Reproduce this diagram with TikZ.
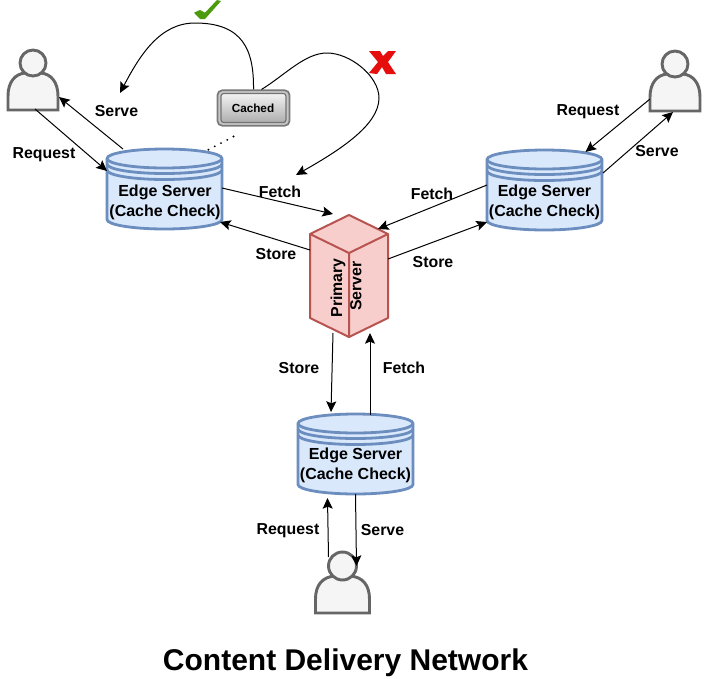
\documentclass[tikz,border=0pt]{standalone}
\usepackage{fontspec}
\setmainfont{Liberation Sans}
\usetikzlibrary{arrows.meta,calc}
\definecolor{cylfill}{HTML}{DAE8FC}
\definecolor{cylline}{HTML}{6C8EBF}
\definecolor{boxfill}{HTML}{F8CECC}
\definecolor{boxline}{HTML}{B85450}
\definecolor{userfill}{HTML}{F5F5F5}
\definecolor{userline}{HTML}{666666}
\definecolor{checkgreen}{HTML}{4C9A0E}
\definecolor{crossred}{HTML}{E60D0D}
\tikzset{
  lbl/.style={font=\bfseries\fontsize{11.9pt}{14pt}\selectfont,inner sep=0pt,text=black},
  cyltext/.style={font=\bfseries\fontsize{12pt}{15pt}\selectfont,align=center,inner sep=0pt},
  anchorbox/.style={minimum width=86.25pt,minimum height=60pt,inner sep=0pt,outer sep=0pt},
  userbox/.style={minimum width=37.5pt,minimum height=45pt,inner sep=0pt,outer sep=0pt},
  conn/.style={draw=black,line width=0.75pt,-{Stealth[length=8pt,width=7.5pt,inset=1.5pt]}},
  cylshape/.style={draw=cylline,fill=cylfill,line width=2.1pt},
  cylring/.style={draw=cylline,line width=2.1pt},
  usershape/.style={draw=userline,fill=userfill,line width=2.2pt},
}
\begin{document}
\begin{tikzpicture}[x=0.75pt,y=-0.75pt]
\useasboundingbox (0,0) rectangle (719,679);
\fill[white] (0,0) rectangle (719,679);

% ---- edge servers -------------------------------------------------
\foreach \cx/\ty in {164.5/149,544.5/150,355.5/414}{
  \path[cylshape] (\cx-57.5,\ty+9.5)
     .. controls (\cx-57.5,\ty+4.25) and (\cx-31.8,\ty) .. (\cx,\ty)
     .. controls (\cx+31.8,\ty) and (\cx+57.5,\ty+4.25) .. (\cx+57.5,\ty+9.5)
     -- (\cx+57.5,\ty+70.5)
     .. controls (\cx+57.5,\ty+75.75) and (\cx+31.8,\ty+80) .. (\cx,\ty+80)
     .. controls (\cx-31.8,\ty+80) and (\cx-57.5,\ty+75.75) .. (\cx-57.5,\ty+70.5) -- cycle;
  \foreach \off in {9.5,15,21}{
    \draw[cylring] (\cx-57.5,\ty+\off)
      .. controls (\cx-57.5,\ty+\off+5.25) and (\cx-31.8,\ty+\off+9.5) .. (\cx,\ty+\off+9.5)
      .. controls (\cx+31.8,\ty+\off+9.5) and (\cx+57.5,\ty+\off+5.25) .. (\cx+57.5,\ty+\off);
  }
}
\node[anchorbox] (edgeA) at (164.5,189) {};
\node[anchorbox] (edgeB) at (544.5,190) {};
\node[anchorbox] (edgeC) at (355.5,454) {};
\node[cyltext] at (165,202) {Edge Server\\(Cache Check)};
\node[cyltext] at (544.5,202) {Edge Server\\(Cache Check)};
\node[cyltext] at (355.5,465.5) {Edge Server\\(Cache Check)};

% ---- users ---------------------------------------------------------
\foreach \cx/\ty/\hw/\rr in {33/50/25/13,675/51/25/13,342.5/553/27/14}{
  \draw[usershape] (\cx-\hw,\ty+60) -- (\cx-\hw,\ty+46) .. controls (\cx-\hw,\ty+32) and (\cx-\hw+7,\ty+24) .. (\cx-8,\ty+23)
    -- (\cx+8,\ty+23) .. controls (\cx+\hw-7,\ty+24) and (\cx+\hw,\ty+32) .. (\cx+\hw,\ty+46) -- (\cx+\hw,\ty+60) -- cycle;
  \draw[usershape] (\cx,\ty+13) circle[radius=\rr*0.75pt];
}
\node[userbox] (userA) at (33,80) {};
\node[userbox] (userB) at (675,81) {};
\node[userbox] (userC) at (342.5,583) {};

% ---- primary server -------------------------------------------------
\draw[draw=boxline,fill=boxfill,line width=1.5pt,line join=round] (310,234) -- (349,215) -- (388,234) -- (388,318) -- (349,337) -- (310,318) -- cycle;
\draw[draw=boxline,line width=1.5pt,line join=round] (310,234) -- (349,253) -- (388,234) (349,253) -- (349,337);
\node[anchorbox,minimum width=58.5pt,minimum height=91.5pt] (primary) at (349,276) {};
\node[lbl,rotate=90] at (338,288) {Primary};
\node[lbl,rotate=90] at (356,286) {Server};

% ---- cached button ---------------------------------------------------
\node[minimum width=54pt,minimum height=26.5pt,inner sep=0pt,rounded corners=3.5pt,draw=black!52,line width=1.3pt,fill=black!22] (cached) at (253.5,108) {};
\draw[rounded corners=2pt,draw=black!55,line width=0.9pt,top color=black!5,bottom color=black!32] (221,93.5) rectangle (286,122.5);
\node[font=\bfseries\fontsize{8.8pt}{10pt}\selectfont,inner sep=0pt] at (253,108.5) {Cached};

% ---- connectors --------------------------------------------------------
\draw[conn] ($(userA.south)+(2,-1)$) -- ($(edgeA.west)+(0,-18)$);
\draw[conn] ($(edgeA.north west)+(16,0)$) -- ($(userA.east)+(1,17)$);
\draw[conn] ($(edgeA.east)+(0,-1)$) -- ($(primary.north west)+(23,-1)$);
\draw[conn] ($(primary.west)+(0,-26)$) -- ($(edgeA.east)+(-2,33)$);
\draw[conn] ($(edgeB.west)+(0,-5)$) -- ($(primary.north east)+(-10,14)$);
\draw[conn] ($(primary.east)+(0,-17)$) -- ($(edgeB.west)+(0,32)$);
\draw[conn] ($(primary.south)+(-16,-4)$) -- ($(edgeC.north)+(-24.5,-2)$);
\draw[conn] ($(edgeC.north)+(14.5,1)$) -- ($(primary.south)+(21,-4)$);
\draw[conn] ($(userC.north)+(-14,4)$) -- ($(edgeC.south)+(-28,4)$);
\draw[conn] (edgeC.south) -- ($(userC.north)+(14,13)$);
\draw[conn] ($(userB.west)+(0,18)$) -- ($(edgeB.north)+(41,2)$);
\draw[conn] ($(edgeB.east)+(1,-17)$) -- ($(userB.south)+(-2,1)$);
\draw[conn] (cached.north) .. controls (254,50) and (243,23) .. (195,23) .. controls (160,23) and (140,55) .. (120,93);
\draw[conn] ($(cached.north)+(8,0)$) .. controls (285,75) and (305,53) .. (327,53) .. controls (350,53) and (379,76) .. (379,98) .. controls (379,125) and (340,150) .. (296,175);
\draw[black,line width=1.6pt,line cap=round,dash pattern=on 0pt off 5.3pt] ($(cached.south)+(-20,10)$) -- ($(edgeA.north east)+(-16,2)$);

% ---- labels --------------------------------------------------------------
\node[lbl] at (116.5,111.5) {Serve};
\node[lbl] at (44,154.5) {Request};
\node[lbl] at (280,191.5) {Fetch};
\node[lbl] at (276,254.5) {Store};
\node[lbl] at (432,194) {Fetch};
\node[lbl] at (433,262) {Store};
\node[lbl] at (588,111.5) {Request};
\node[lbl] at (657,151.5) {Serve};
\node[lbl] at (299,368.5) {Store};
\node[lbl] at (404,368) {Fetch};
\node[lbl] at (288,530.5) {Request};
\node[lbl] at (382.5,530) {Serve};
\node[font=\bfseries\fontsize{22.5pt}{26pt}\selectfont,inner sep=0pt] at (345.5,663) {Content Delivery Network};

% ---- check and cross marks ------------------------------------------------
\fill[checkgreen] (194,12.7) -- (200,10) -- (205,12.7) -- (217,0) -- (221,1) -- (205,19) -- (200,19) -- cycle;
\fill[crossred] (369,51) -- (380,51) -- (383,56) -- (388,51) -- (396,51) -- (388,62) -- (396,74) -- (386,74) -- (382,67) -- (377,74) -- (369,73) -- (378,62) -- cycle;
\end{tikzpicture}
\end{document}
